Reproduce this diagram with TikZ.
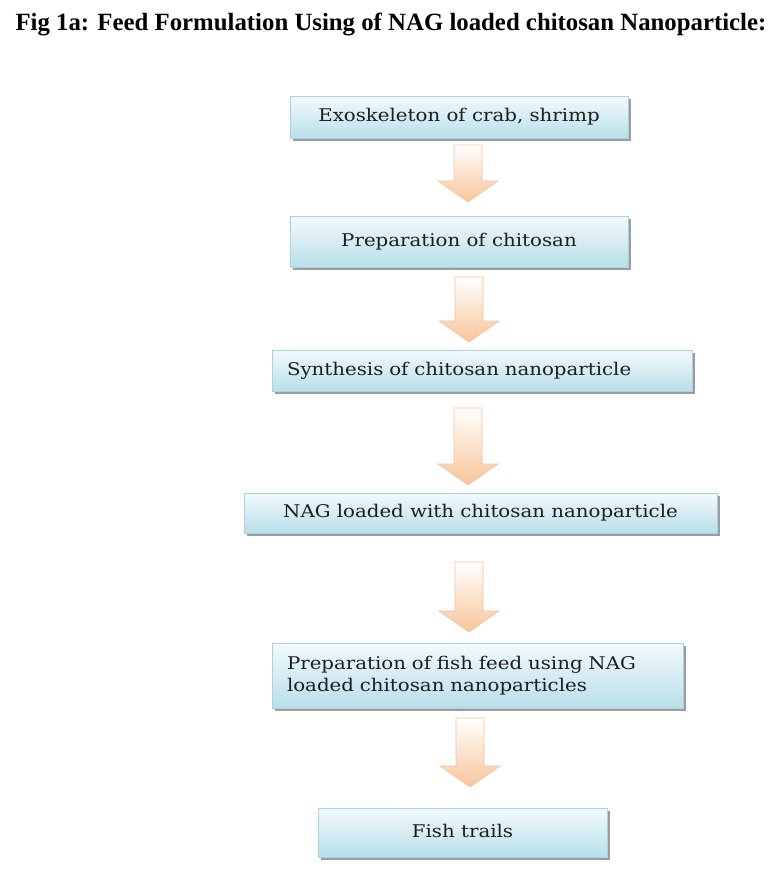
\documentclass[tikz,border=0pt]{standalone}
\usepackage{fontspec}
\setmainfont{Liberation Serif}
\newfontfamily\boxfont[FakeStretch=1.13]{DejaVu Serif}
\usetikzlibrary{calc,shadows}
\definecolor{boxedge}{HTML}{A9D3E0}
\definecolor{boxtop}{HTML}{F2FAFC}
\definecolor{boxbot}{HTML}{B9DFEA}
\definecolor{arrtop}{HTML}{FFFFFF}
\definecolor{arrbot}{HTML}{F8C59A}
\definecolor{arredge}{HTML}{F2C29C}
\definecolor{txt}{HTML}{1E1E1E}
\tikzset{
  flowbox/.style={draw=boxedge, line width=0.8pt, top color=boxtop, bottom color=boxbot,
    drop shadow={shadow xshift=2.5pt, shadow yshift=-2.5pt, fill=black!55, opacity=0.7},
    inner sep=0pt, text=txt, font=\boxfont\fontsize{17.5}{22}\selectfont},
  flowarr/.style={draw=arredge, line width=0.6pt, top color=arrtop, bottom color=arrbot}
}
\newcommand{\flowarrow}[2]{%
  \path[flowarr] let \p1=(#1), \p2=(#2) in
    (\x1-14pt,\y1) -- (\x1-14pt,\y2+21pt) -- (\x1-30pt,\y2+21pt) -- (\x2,\y2)
    -- (\x1+30pt,\y2+21pt) -- (\x1+14pt,\y2+21pt) -- (\x1+14pt,\y1) -- cycle;}
\begin{document}
\begin{tikzpicture}[x=1pt,y=-1pt]
\useasboundingbox (0,0) rectangle (768,873);
\fill[white] (0,0) rectangle (768,873);
\node[anchor=base west, font=\bfseries\fontsize{24.8}{28}\selectfont] (title) at (12,30)
  {Fig 1a: Feed Formulation Using of NAG loaded chitosan Nanoparticle:};

\node[flowbox, minimum width=338pt, minimum height=42pt] (b1) at (459,117)
  {\raisebox{4pt}{Exoskeleton of crab, shrimp}};
\node[flowbox, minimum width=338pt, minimum height=51pt] (b2) at (459,241.5)
  {\raisebox{4pt}{Preparation of chitosan}};
\node[flowbox, minimum width=420pt, minimum height=41pt, text width=390pt, align=left] (b3) at (482,370.5)
  {\raisebox{2pt}{Synthesis of chitosan nanoparticle}};
\node[flowbox, minimum width=473pt, minimum height=40pt] (b4) at (480.5,513)
  {\raisebox{3pt}{NAG loaded with chitosan nanoparticle}};
\node[flowbox, minimum width=411pt, minimum height=65pt, text width=381pt, align=left] (b5) at (477.5,675.5)
  {Preparation of fish feed using NAG\\loaded chitosan nanoparticles};
\node[flowbox, minimum width=289pt, minimum height=49pt] (b6) at (462.5,832.5)
  {\raisebox{4pt}{Fish trails}};

\coordinate (a1t) at (468,145); \coordinate (a1b) at (468,202);
\coordinate (a2t) at (469,277); \coordinate (a2b) at (469,342);
\coordinate (a3t) at (468,408); \coordinate (a3b) at (468,485);
\coordinate (a4t) at (469,562); \coordinate (a4b) at (469,632);
\coordinate (a5t) at (470,718); \coordinate (a5b) at (470,787);
\flowarrow{a1t}{a1b}
\flowarrow{a2t}{a2b}
\flowarrow{a3t}{a3b}
\flowarrow{a4t}{a4b}
\flowarrow{a5t}{a5b}
\end{tikzpicture}
\end{document}
